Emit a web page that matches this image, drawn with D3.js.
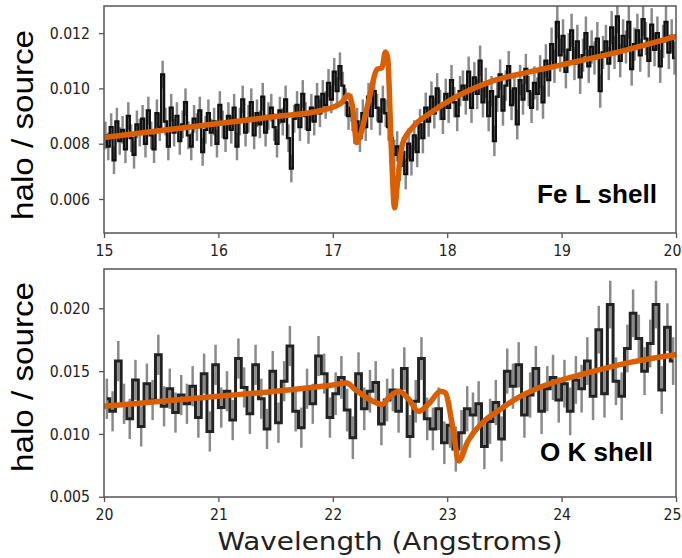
<!DOCTYPE html>
<html><head><meta charset="utf-8">
<script src="https://cdn.jsdelivr.net/npm/d3@7"></script>
<style>body{margin:0;background:#fff} svg{display:block}</style>
</head><body><svg id="chart" width="682" height="558"></svg>
<script>
// ---------- Fe L shell panel (15-20 Angstrom) ----------
const feStart = 15, feBinWidth = 0.025;
const feValues = [
 0.0083,0.0079,0.0086,0.0074,0.0088,0.0081,0.0085,0.0078,0.0090,0.0082,0.0076,0.0087,0.0084,0.0089,0.0080,0.0092,0.0083,0.0078,0.0091,0.0086,0.0105,0.0088,0.0079,0.0093,0.0084,
 0.0090,0.0081,0.0087,0.0095,0.0083,0.0079,0.0089,0.0086,0.0092,0.0077,0.0085,0.0091,0.0084,0.0088,0.0080,0.0094,0.0087,0.0082,0.0090,0.0085,0.0093,0.0079,0.0088,0.0096,0.0084,
 0.0089,0.0095,0.0083,0.0091,0.0087,0.0097,0.0084,0.0090,0.0093,0.0086,0.0080,0.0092,0.0088,0.0096,0.0082,0.0071,0.0089,0.0094,0.0086,0.0098,0.0090,0.0085,0.0093,0.0088,0.0097,
 0.0091,0.0098,0.0094,0.0102,0.0096,0.0106,0.0099,0.0108,0.0101,0.0095,0.0090,0.0093,0.0085,0.0088,0.0082,0.0091,0.0086,0.0097,0.0090,0.0099,0.0093,0.0088,0.0096,0.0091,0.0086,
 0.0082,0.0076,0.0079,0.0072,0.0077,0.0069,0.0080,0.0074,0.0083,0.0077,0.0087,0.0082,0.0093,0.0088,0.0097,0.0091,0.0100,0.0094,0.0089,0.0098,0.0093,0.0103,0.0095,0.0090,0.0099,
 0.0101,0.0096,0.0106,0.0093,0.0104,0.0098,0.0110,0.0095,0.0102,0.0090,0.0099,0.0081,0.0097,0.0105,0.0092,0.0101,0.0108,0.0094,0.0100,0.0087,0.0103,0.0096,0.0107,0.0099,0.0093,
 0.0102,0.0098,0.0106,0.0095,0.0110,0.0103,0.0116,0.0108,0.0124,0.0112,0.0119,0.0106,0.0114,0.0121,0.0109,0.0117,0.0104,0.0112,0.0120,0.0108,0.0115,0.0111,0.0118,0.0099,0.0113,
 0.0117,0.0109,0.0122,0.0113,0.0126,0.0110,0.0119,0.0115,0.0124,0.0107,0.0116,0.0121,0.0112,0.0125,0.0118,0.0110,0.0123,0.0114,0.0120,0.0108,0.0117,0.0124,0.0113,0.0119,0.0111
];
const feErrorPerGroup = [0.0005,0.0005,0.0005,0.0005,0.00055,0.00055,0.0006,0.0006]; // each group = 25 bins
const feModelX = [15,15.5,16,16.5,16.9,17.02,17.08,17.12,17.14,17.17,17.21,17.24,17.31,17.39,17.43,17.46,17.48,17.51,17.54,17.57,17.61,17.7,17.85,18.08,18.37,18.7,19.0,19.5,20.0];
const feModelY = [0.00822,0.00848,0.00873,0.00898,0.00920,0.00935,0.00950,0.00972,0.00975,0.00940,0.00804,0.00830,0.00948,0.01070,0.01075,0.01132,0.01110,0.00800,0.00568,0.00680,0.00800,0.00860,0.00910,0.00970,0.01023,0.01058,0.01085,0.01132,0.01188];
const feXTicks = [15,16,17,18,19,20];
const feYTicks = [0.006,0.008,0.010,0.012];

// ---------- O K shell panel (20-25 Angstrom) ----------
const oStart = 20, oBinWidth = 0.05;
const oValues = [
 0.0128,0.0118,0.0158,0.0124,0.0112,0.0143,0.0106,0.0140,0.0127,0.0163,
 0.0122,0.0136,0.0117,0.0131,0.0124,0.0138,0.0113,0.0148,0.0102,0.0155,
 0.0121,0.0134,0.0111,0.0160,0.0137,0.0116,0.0155,0.0128,0.0104,0.0150,
 0.0109,0.0142,0.0170,0.0118,0.0105,0.0136,0.0124,0.0162,0.0148,0.0113,
 0.0132,0.0145,0.0119,0.0097,0.0148,0.0120,0.0134,0.0141,0.0108,0.0127,
 0.0135,0.0118,0.0152,0.0098,0.0126,0.0160,0.0112,0.0104,0.0120,0.0093,
 0.0107,0.0088,0.0101,0.0120,0.0115,0.0124,0.0090,0.0110,0.0125,0.0096,
 0.0150,0.0138,0.0155,0.0115,0.0131,0.0152,0.0118,0.0136,0.0145,0.0127,
 0.0140,0.0118,0.0143,0.0136,0.0158,0.0130,0.0183,0.0132,0.0203,0.0142,
 0.0130,0.0168,0.0196,0.0176,0.0150,0.0172,0.0203,0.0135,0.0185,0.0158
];
const oErrorPerGroup = [0.0016,0.0016,0.0017,0.0018,0.0019]; // each group = 20 bins
const oModelX = [20,20.5,21,21.5,22.0,22.12,22.2,22.33,22.43,22.5,22.58,22.66,22.75,22.85,22.94,22.98,23.05,23.1,23.18,23.32,23.44,23.59,23.8,24.23,24.52,25.0];
const oModelY = [0.0122,0.0126,0.0130,0.0134,0.0139,0.01405,0.0135,0.0127,0.01235,0.0130,0.0134,0.0128,0.0118,0.0125,0.0134,0.0133,0.01046,0.00785,0.0094,0.0110,0.0118,0.01273,0.01367,0.01487,0.01554,0.01632];
const oXTicks = [20,21,22,23,24,25];
const oYTicks = [0.005,0.010,0.015,0.020];

const panels = [
  {id:"fe", start:feStart, bw:feBinWidth, values:feValues, errs:feErrorPerGroup, group:25,
   mx:feModelX, my:feModelY, xTicks:feXTicks, yTicks:feYTicks, lineColor:"#111", lineWidth:2.4,
   xDomain:[15,20], yDomain:[0.00477,0.01298], top:6, bottom:233, label:"Fe L shell", labelX:537, labelY:203, labelLen:120,
   ylabelY:125},
  {id:"o", start:oStart, bw:oBinWidth, values:oValues, errs:oErrorPerGroup, group:20,
   mx:oModelX, my:oModelY, xTicks:oXTicks, yTicks:oYTicks, lineColor:"#222", lineWidth:3.0,
   xDomain:[20,25], yDomain:[0.00498,0.02313], top:269, bottom:497, label:"O K shell", labelX:540, labelY:461, labelLen:113,
   ylabelY:377}
];

const svg = d3.select("#chart");
const left = 104, right = 676;
const axisColor = "#555";

panels.forEach(p => {
  const x = d3.scaleLinear().domain(p.xDomain).range([left, right]);
  const y = d3.scaleLinear().domain(p.yDomain).range([p.bottom, p.top]);
  const data = p.values.map((v,i) => ({x: p.start + (i+0.5)*p.bw, v, e: p.errs[Math.floor(i/p.group)]}));

  svg.append("clipPath").attr("id","clip-"+p.id).append("rect")
    .attr("x", left).attr("y", p.top).attr("width", right-left).attr("height", p.bottom-p.top);
  const g = svg.append("g").attr("clip-path","url(#clip-"+p.id+")");

  // error bars
  g.selectAll("line.err").data(data).join("line").attr("class","err")
    .attr("x1", d=>x(d.x)).attr("x2", d=>x(d.x))
    .attr("y1", d=>y(d.v - d.e)).attr("y2", d=>y(d.v + d.e))
    .attr("stroke","#8a8a8a").attr("stroke-width",2.5);

  // data step line
  g.append("path").datum(data)
    .attr("d", d3.line().x(d=>x(d.x)).y(d=>y(d.v)).curve(d3.curveStep))
    .attr("fill","none").attr("stroke", p.lineColor).attr("stroke-width",p.lineWidth);

  // model
  const model = p.mx.map((mx,i)=>({x:mx, v:p.my[i]}));
  g.append("path").datum(model)
    .attr("d", d3.line().x(d=>x(d.x)).y(d=>y(d.v)).curve(d3.curveMonotoneX))
    .attr("fill","none").attr("stroke","#d95f02").attr("stroke-width",5.5)
    .attr("stroke-linejoin","round").attr("stroke-linecap","round");

  // axes
  const xAxis = svg.append("g").attr("transform",`translate(0,${p.bottom})`)
    .call(d3.axisBottom(x).tickValues(p.xTicks).tickFormat(d3.format("d")).tickSize(5).tickPadding(7));
  const yAxis = svg.append("g").attr("transform",`translate(${left},0)`)
    .call(d3.axisLeft(y).tickValues(p.yTicks).tickFormat(d3.format(".3f")).tickSize(5).tickPadding(9));
  [xAxis,yAxis].forEach(a => {
    a.select(".domain").remove();
    a.selectAll("line").attr("stroke",axisColor).attr("stroke-width",1.3);
    a.selectAll("text").attr("font-family","DejaVu Sans").attr("font-size",16).attr("fill","#222");
  });
  const nX = p.xTicks.length;
  xAxis.selectAll(".tick text").attr("transform",(d,i)=> i===nX-1 ? "translate(-4,0) scale(0.88,1)" : "scale(0.88,1)");
  yAxis.selectAll(".tick text").each(function(){
    const t = d3.select(this);
    t.attr("transform",`translate(${t.attr("x")},0) scale(0.88,1)`).attr("x",0);
  });

  // frame
  svg.append("rect").attr("x",left).attr("y",p.top).attr("width",right-left).attr("height",p.bottom-p.top)
    .attr("fill","none").attr("stroke",axisColor).attr("stroke-width",1.5);

  // panel label
  svg.append("text").attr("x",p.labelX).attr("y",p.labelY)
    .attr("font-family","Liberation Sans, Arial, sans-serif").attr("font-weight","bold").attr("font-size",25)
    .attr("textLength",p.labelLen).attr("lengthAdjust","spacingAndGlyphs").attr("fill","#000")
    .text(p.label);

  // y label
  svg.append("text").attr("transform",`translate(33,${p.ylabelY}) rotate(-90)`)
    .attr("text-anchor","middle").attr("font-family","Liberation Sans, Arial, sans-serif").attr("font-size",29)
    .attr("textLength",190).attr("lengthAdjust","spacingAndGlyphs").attr("fill","#000")
    .text("halo / source");
});

svg.append("text").attr("x",390).attr("y",550).attr("text-anchor","middle")
  .attr("font-family","DejaVu Sans").attr("font-size",25).attr("fill","#222")
  .attr("textLength",345).attr("lengthAdjust","spacingAndGlyphs")
  .text("Wavelength (Angstroms)");
</script>
</body></html>
